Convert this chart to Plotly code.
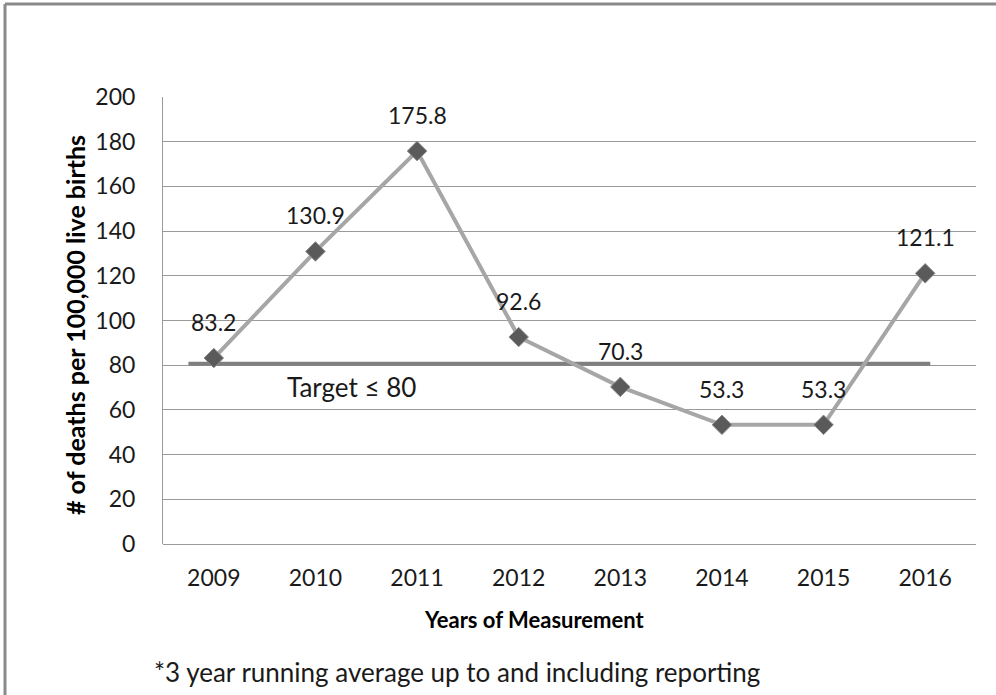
import plotly.graph_objects as go

years = ["2009", "2010", "2011", "2012", "2013", "2014", "2015", "2016"]
rates = [83.2, 130.9, 175.8, 92.6, 70.3, 53.3, 53.3, 121.1]
target_value = 80
target_label = "Target ≤ 80"
y_ticks = [0, 20, 40, 60, 80, 100, 120, 140, 160, 180, 200]

W, H = 996, 695
L, R, T, B = 163, 20, 97, 151
PW, PH = W - L - R, H - T - B

def px(x):
    return (x - L) / PW

def py(y):
    return (H - B - y) / PH

xs = list(range(len(years)))
FONT = "Lato"

fig = go.Figure()
# target line
fig.add_trace(go.Scatter(
    x=[-0.25, len(years) - 1 + 0.05], y=[target_value + 0.6, target_value + 0.6],
    mode="lines", line=dict(color="#7f7f7f", width=4),
    hoverinfo="skip", showlegend=False))
# series
fig.add_trace(go.Scatter(
    x=xs, y=rates, mode="lines+markers",
    line=dict(color="#a6a6a6", width=4),
    marker=dict(symbol="diamond", size=15, color="#5a5a5a",
                line=dict(color="#8a8a8a", width=1)),
    showlegend=False))

annotations = []
for x, v in zip(xs, rates):
    annotations.append(dict(x=x, y=v, xref="x", yref="y", text=f"{v:.1f}",
                            showarrow=False, yshift=36,
                            font=dict(family=FONT, size=23, color="#1a1a1a")))
annotations.append(dict(x=px(285), y=py(387), xref="paper", yref="paper",
                        text=target_label, showarrow=False, xanchor="left",
                        yanchor="middle",
                        font=dict(family=FONT, size=26, color="#1a1a1a")))
annotations.append(dict(x=px(534), y=py(619), xref="paper", yref="paper",
                        text="<b>Years of Measurement</b>", showarrow=False,
                        xanchor="center", yanchor="middle",
                        font=dict(family=FONT, size=22, color="#000000")))
annotations.append(dict(x=px(75), y=py(325), xref="paper", yref="paper",
                        text="<b># of deaths per 100,000 live births</b>",
                        showarrow=False, textangle=-90,
                        xanchor="center", yanchor="middle",
                        font=dict(family=FONT, size=25, color="#000000")))
annotations.append(dict(x=px(152), y=py(672), xref="paper", yref="paper",
                        text="*3 year running average up to and including reporting",
                        showarrow=False, xanchor="left", yanchor="middle",
                        font=dict(family=FONT, size=26, color="#1a1a1a")))

border = dict(color="#8a8a8a", width=3)
fig.update_layout(
    width=W, height=H,
    margin=dict(l=L, r=R, t=T, b=B),
    paper_bgcolor="white", plot_bgcolor="white",
    annotations=annotations,
    shapes=[
        dict(type="line", xref="paper", yref="paper",
             x0=px(5), x1=px(5), y0=py(900), y1=py(4), line=border, layer="below"),
        dict(type="line", xref="paper", yref="paper",
             x0=px(5), x1=px(1200), y0=py(4), y1=py(4), line=border, layer="below"),
    ],
    xaxis=dict(range=[-0.5, len(years) - 0.5], tickvals=xs, ticktext=years,
               showgrid=False, zeroline=False, showline=False,
               ticks="", ticklabelstandoff=18,
               tickfont=dict(family=FONT, size=23, color="#1a1a1a")),
    yaxis=dict(range=[0, 200], tickvals=y_ticks, showgrid=True,
               gridcolor="#9a9a9a", gridwidth=1,
               zeroline=True, zerolinecolor="#9a9a9a", zerolinewidth=1,
               showline=True, linecolor="#9a9a9a", linewidth=1,
               ticks="", ticklabelstandoff=22,
               tickfont=dict(family=FONT, size=23, color="#1a1a1a")),
)

fig.write_html("out.html", config={"displayModeBar": False},
               post_script="document.body.style.margin='0';document.body.style.overflow='hidden';")
